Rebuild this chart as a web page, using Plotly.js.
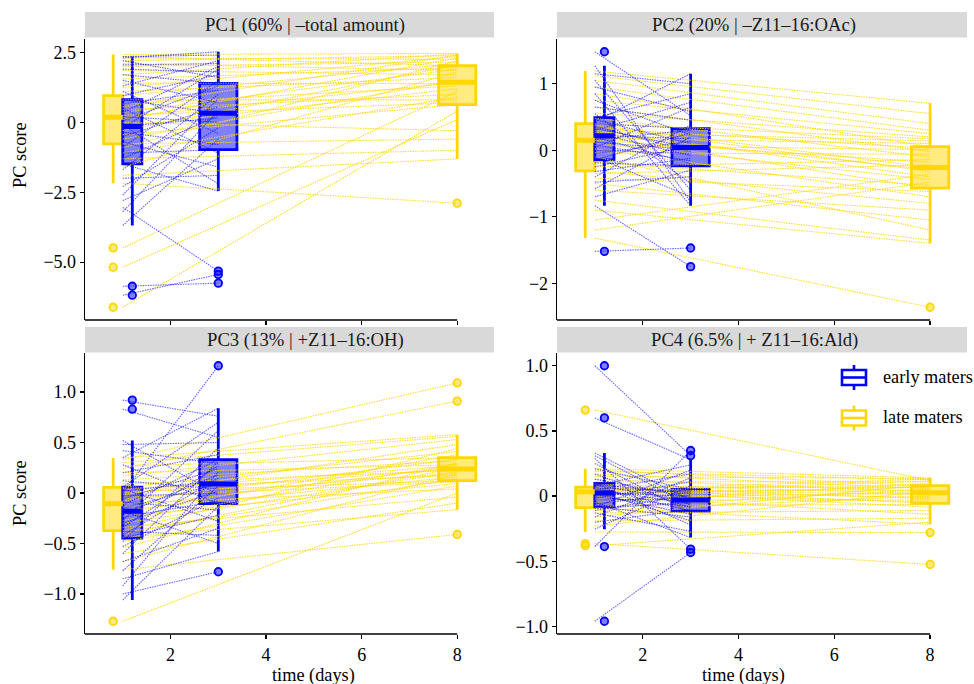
<!DOCTYPE html>
<html><head><meta charset="utf-8">
<script src="https://cdn.plot.ly/plotly-3.0.1.min.js"></script>
<style>html,body{margin:0;padding:0;background:#fff}#chart{width:974px;height:684px}</style>
</head><body><div id="chart"></div>
<script>
// ---------------- DATA ----------------
const panelTitles = ['PC1 (60% | \u2013total amount)', 'PC2 (20% | \u2013Z11\u201316:OAc)', 'PC3 (13% | +Z11\u201316:OH)', 'PC4 (6.5% | + Z11\u201316:Ald)'];
const groupNames = ['early maters', 'late maters'];
const earlyDays = [1, 3];
const lateDays = [1, 8];
const xTickVals = [2, 4, 6, 8];
const yTickVals = [[-5, -2.5, 0, 2.5], [-2, -1, 0, 1], [-1, -0.5, 0, 0.5, 1], [-1, -0.5, 0, 0.5, 1]];
const yTickText = [['\u22125.0', '\u22122.5', '0', '2.5'], ['\u22122', '\u22121', '0', '1'], ['\u22121.0', '\u22120.5', '0', '0.5', '1.0'], ['\u22121.0', '\u22120.5', '0', '0.5', '1.0']];

// individual scores (paired by index)
const pc1EarlyDay1 = [-6.18,-5.86,-3.69,-3.2,-3.04,-2.8,-2.6,-2.3,-2.0,-1.7,-1.49,-1.3,-1.1,-0.9,-0.7,-0.5,-0.35,-0.2,-0.15,-0.1,0.05,0.2,0.35,0.5,0.65,0.81,0.95,1.1,1.3,1.5,1.7,1.9,2.05,2.2,2.3,2.35];
const pc1EarlyDay3 = [-5.44,-5.75,-0.6,0.4,-5.32,-1.3,0.85,-0.2,-1.9,1.0,-2.46,0.25,-0.98,1.5,-1.6,0.55,-0.8,1.9,0.15,-2.2,1.3,0.0,2.0,-1.1,1.15,0.32,1.7,-0.4,2.2,0.7,1.39,1.8,2.1,1.6,2.52,2.4];
const pc1LateDay1 = [-6.61,-5.18,-4.49,-2.18,-1.9,-1.6,-1.3,-1.1,-0.9,-0.77,-0.6,-0.45,-0.3,-0.15,0.0,0.1,0.18,0.25,0.35,0.45,0.55,0.65,0.8,0.95,1.1,1.25,1.4,1.55,1.7,1.85,2.0,2.1,2.2,2.3,2.35,2.42];
const pc1LateDay8 = [0.4,0.1,1.1,-2.89,-1.31,1.8,-1.0,0.9,2.2,-0.6,1.5,0.63,2.05,1.2,-0.3,2.3,1.43,0.7,1.9,1.0,2.4,1.3,0.8,2.1,1.6,2.35,1.38,1.95,2.44,1.7,2.15,1.85,2.38,2.25,2.02,2.46];

const pc2EarlyDay1 = [-1.52,-0.835,-0.7,-0.58,-0.48,-0.4,-0.32,-0.25,-0.19,-0.145,-0.1,-0.05,0.0,0.04,0.08,0.12,0.16,0.2,0.23,0.26,0.3,0.33,0.36,0.4,0.43,0.46,0.49,0.55,0.65,0.75,0.85,0.95,1.05,1.15,1.27,1.48];
const pc2EarlyDay3 = [-1.47,-1.75,-0.3,0.2,-0.4,0.38,-0.12,0.07,-0.235,0.26,-0.7,0.13,-0.05,0.65,-0.16,0.01,0.3,-0.2,0.17,-0.08,0.72,0.04,-0.02,0.325,1.15,0.1,0.85,-0.5,0.45,0.23,-0.835,0.58,-0.6,1.0,-0.78,0.52];
const pc2LateDay1 = [-1.32,-1.2,-1.05,-0.9,-0.75,-0.6,-0.5,-0.42,-0.35,-0.31,-0.25,-0.18,-0.1,-0.04,0.02,0.07,0.11,0.15,0.18,0.21,0.24,0.27,0.3,0.33,0.36,0.38,0.40,0.48,0.56,0.65,0.75,0.85,0.95,1.05,1.12,1.19];
const pc2LateDay8 = [-2.36,-0.48,-0.36,-1.40,-1.35,-0.9,-1.05,-0.62,-0.22,-0.8,-0.14,-0.53,-1.2,-0.06,-0.7,0.01,-0.44,-0.18,0.1,-0.57,-0.29,0.14,-0.4,0.03,-0.32,-0.26,0.17,-0.1,0.2,-0.02,0.25,0.055,0.3,0.4,0.55,0.705];

const pc3EarlyDay1 = [-1.06,-1.0,-0.92,-0.85,-0.77,-0.68,-0.6,-0.53,-0.48,-0.446,-0.42,-0.38,-0.34,-0.3,-0.27,-0.24,-0.21,-0.18,-0.15,-0.12,-0.09,-0.06,-0.03,0.0,0.02,0.04,0.059,0.12,0.2,0.28,0.35,0.42,0.48,0.52,0.83,0.92];
const pc3EarlyDay3 = [-0.13,-0.78,0.21,-0.58,0.07,-0.35,0.31,-0.05,0.45,-0.22,0.15,-0.42,0.27,0.02,0.62,-0.08,0.18,-0.5,0.09,0.33,-0.17,0.24,0.0,1.26,0.12,-0.28,0.7,0.04,0.38,-0.106,0.84,0.29,0.5,-0.02,0.55,0.76];
const pc3LateDay1 = [-1.27,-0.76,-0.68,-0.6,-0.54,-0.48,-0.44,-0.41,-0.39,-0.373,-0.34,-0.3,-0.27,-0.23,-0.2,-0.17,-0.14,-0.106,-0.08,-0.06,-0.04,-0.02,0.0,0.01,0.03,0.045,0.056,0.09,0.13,0.17,0.2,0.24,0.27,0.3,0.33,0.347];
const pc3LateDay8 = [0.0,-0.41,0.19,-0.1,0.3,0.07,-0.165,0.25,0.14,0.44,-0.04,0.21,0.29,0.095,0.38,0.16,0.26,0.04,0.335,0.2,0.11,0.48,0.238,0.122,0.27,0.175,0.41,0.225,0.32,0.53,0.28,0.91,0.35,0.56,1.09,0.578];

const pc4EarlyDay1 = [-0.96,-0.387,-0.254,-0.2,-0.16,-0.13,-0.11,-0.095,-0.085,-0.081,-0.06,-0.045,-0.03,-0.015,-0.005,0.005,0.015,0.025,0.035,0.045,0.055,0.062,0.07,0.078,0.085,0.09,0.097,0.13,0.17,0.21,0.25,0.29,0.31,0.33,0.6,1.0];
const pc4EarlyDay3 = [-0.433,0.35,0.08,-0.1,0.14,-0.27,0.01,-0.05,0.2,-0.16,0.03,-0.318,-0.02,0.11,-0.08,0.045,-0.14,0.0,-0.19,0.17,-0.06,0.038,-0.115,0.24,-0.04,0.02,-0.22,-0.01,-0.09,0.051,-0.125,-0.407,-0.07,-0.03,0.28,0.31];
const pc4LateDay1 = [-0.38,-0.364,-0.275,-0.23,-0.19,-0.16,-0.13,-0.11,-0.095,-0.089,-0.07,-0.05,-0.03,-0.015,0.0,0.012,0.022,0.033,0.038,0.042,0.046,0.05,0.054,0.058,0.062,0.066,0.069,0.09,0.11,0.13,0.15,0.17,0.19,0.2,0.21,0.66];
const pc4LateDay8 = [-0.2,-0.524,-0.28,0.04,-0.17,0.09,-0.11,0.0,-0.216,0.052,-0.065,0.1,-0.03,0.025,-0.14,0.07,-0.045,0.115,-0.01,0.046,-0.085,0.13,0.01,-0.056,0.081,-0.02,0.064,0.018,0.11,0.032,0.135,0.058,0.125,0.076,0.14,0.12];

// box statistics: [lower whisker, Q1, median, Q3, upper whisker]
const pc1EarlyDay1Box = [-3.69, -1.49, -0.15, 0.81, 2.35];
const pc1EarlyDay3Box = [-2.46, -0.98, 0.32, 1.39, 2.52];
const pc1LateDay1Box = [-2.18, -0.77, 0.18, 0.95, 2.42];
const pc1LateDay8Box = [-1.31, 0.63, 1.43, 2.02, 2.46];
const pc2EarlyDay1Box = [-0.835, -0.145, 0.215, 0.49, 1.27];
const pc2EarlyDay3Box = [-0.835, -0.235, 0.04, 0.325, 1.15];
const pc2LateDay1Box = [-1.32, -0.31, 0.15, 0.40, 1.19];
const pc2LateDay8Box = [-1.40, -0.57, -0.26, 0.055, 0.705];
const pc3EarlyDay1Box = [-1.06, -0.446, -0.18, 0.059, 0.52];
const pc3EarlyDay3Box = [-0.58, -0.106, 0.09, 0.33, 0.84];
const pc3LateDay1Box = [-0.76, -0.373, -0.106, 0.056, 0.347];
const pc3LateDay8Box = [-0.165, 0.122, 0.238, 0.35, 0.578];
const pc4EarlyDay1Box = [-0.254, -0.081, 0.025, 0.097, 0.33];
const pc4EarlyDay3Box = [-0.318, -0.115, -0.03, 0.051, 0.28];
const pc4LateDay1Box = [-0.275, -0.089, 0.033, 0.069, 0.21];
const pc4LateDay8Box = [-0.216, -0.056, 0.025, 0.081, 0.14];

// ---------------- LAYOUT / STYLE ----------------
const W = 974, H = 684;
const FONT = "'Liberation Serif', 'Times New Roman', 'DejaVu Serif', serif";
const colsPx = [[85, 494], [557, 967]];
const rowsPx = [[39, 320], [353, 634]];
const stripPx = [[12, 37.5], [327, 352.5]];
const stripTextXPx = [305, 754];
const xRange = [0.21, 8.77];
const yTitleYPx = [155, 493];
const xTitleXPx = [313, 743];
const xTitleYPx = 675;
const DODGE = 0.2, NARROW = 0.4, WIDE = 0.78;
const sty = {
  early: {c: 'rgb(0,0,255)', fill: 'rgba(0,0,255,0.5)', ln: 'rgba(0,0,255,0.6)'},
  late:  {c: 'rgb(255,215,0)', fill: 'rgba(255,215,0,0.5)', ln: 'rgba(255,215,0,0.85)'}
};

const panels = [
  {early: [pc1EarlyDay1, pc1EarlyDay3], late: [pc1LateDay1, pc1LateDay8], eBox: [pc1EarlyDay1Box, pc1EarlyDay3Box], lBox: [pc1LateDay1Box, pc1LateDay8Box]},
  {early: [pc2EarlyDay1, pc2EarlyDay3], late: [pc2LateDay1, pc2LateDay8], eBox: [pc2EarlyDay1Box, pc2EarlyDay3Box], lBox: [pc2LateDay1Box, pc2LateDay8Box]},
  {early: [pc3EarlyDay1, pc3EarlyDay3], late: [pc3LateDay1, pc3LateDay8], eBox: [pc3EarlyDay1Box, pc3EarlyDay3Box], lBox: [pc3LateDay1Box, pc3LateDay8Box]},
  {early: [pc4EarlyDay1, pc4EarlyDay3], late: [pc4LateDay1, pc4LateDay8], eBox: [pc4EarlyDay1Box, pc4EarlyDay3Box], lBox: [pc4LateDay1Box, pc4LateDay8Box]}
];

const traces = [];
const layout = {
  width: W, height: H, margin: {l: 0, r: 0, t: 0, b: 0},
  paper_bgcolor: '#fff', plot_bgcolor: 'rgba(0,0,0,0)', showlegend: false,
  font: {family: FONT, color: '#000', size: 18},
  shapes: [], annotations: []
};

panels.forEach((P, p) => {
  const s = p ? String(p + 1) : '';
  const xa = 'x' + s, ya = 'y' + s;
  const col = p % 2, row = Math.floor(p / 2);
  const all = [].concat(P.early[0], P.early[1], P.late[0], P.late[1]);
  const mn = Math.min(...all), mx = Math.max(...all), pad = (mx - mn) * 0.05;
  const yr = [mn - pad, mx + pad];

  // connecting lines
  [['late', lateDays], ['early', earlyDays]].forEach(([g, days]) => {
    const [a, b] = P[g];
    const xs = [], ys = [];
    a.forEach((v, i) => { xs.push(days[0], days[1], null); ys.push(v, b[i], null); });
    traces.push({type: 'scatter', mode: 'lines', x: xs, y: ys, xaxis: xa, yaxis: ya,
      line: {color: sty[g].ln, width: 1.1, dash: '1.5px,1px'}, hoverinfo: 'skip', showlegend: false});
  });

  // boxes
  const boxes = [
    {g: 'late', vals: P.late[0], st: P.lBox[0], x: lateDays[0] - DODGE, w: NARROW},
    {g: 'early', vals: P.early[0], st: P.eBox[0], x: earlyDays[0] + DODGE, w: NARROW},
    {g: 'early', vals: P.early[1], st: P.eBox[1], x: earlyDays[1], w: WIDE},
    {g: 'late', vals: P.late[1], st: P.lBox[1], x: lateDays[1], w: WIDE}
  ];
  boxes.forEach(B => {
    const st = B.st, c = sty[B.g];
    traces.push({type: 'box', orientation: 'v', x: [B.x], q1: [st[1]], median: [st[2]], q3: [st[3]],
      lowerfence: [st[0]], upperfence: [st[4]], width: B.w, whiskerwidth: 0,
      fillcolor: c.fill, line: {color: c.c, width: 2.8}, boxpoints: false,
      xaxis: xa, yaxis: ya, hoverinfo: 'skip', showlegend: false});
    traces.push({type: 'scatter', mode: 'lines', x: [B.x - B.w / 2, B.x + B.w / 2], y: [st[2], st[2]],
      line: {color: c.c, width: 5}, xaxis: xa, yaxis: ya, hoverinfo: 'skip', showlegend: false});
    const out = B.vals.filter(v => v < st[0] - 1e-9 || v > st[4] + 1e-9);
    traces.push({type: 'scatter', mode: 'markers', x: out.map(() => B.x), y: out,
      marker: {symbol: 'circle', size: 7.5, color: c.fill, line: {color: c.c, width: 1.8}},
      xaxis: xa, yaxis: ya, hoverinfo: 'skip', showlegend: false, cliponaxis: false});
  });

  layout['xaxis' + s] = {
    domain: [colsPx[col][0] / W, colsPx[col][1] / W], range: xRange, anchor: ya,
    tickvals: xTickVals, ticktext: xTickVals.map(String), showticklabels: row === 1,
    ticks: 'outside', ticklen: 4, tickwidth: 1.3, tickcolor: '#000',
    showline: false, zeroline: false, showgrid: false, fixedrange: true,
    tickfont: {family: FONT, size: 18, color: '#000'}
  };
  layout['yaxis' + s] = {
    domain: [1 - rowsPx[row][1] / H, 1 - rowsPx[row][0] / H], range: yr, anchor: xa,
    tickvals: yTickVals[p], ticktext: yTickText[p],
    ticks: 'outside', ticklen: 4, tickwidth: 1.3, tickcolor: '#000',
    showline: true, linecolor: '#000', linewidth: 1.3, zeroline: false, showgrid: false, fixedrange: true,
    tickfont: {family: FONT, size: 18, color: '#000'}
  };

  // capped x axis line (ends at last tick)
  layout.shapes.push({type: 'line', xref: xa, yref: ya + ' domain', x0: xRange[0], x1: xTickVals[xTickVals.length - 1],
    y0: 0, y1: 0, line: {color: '#000', width: 1.3}});
  // strip
  layout.shapes.push({type: 'rect', xref: 'paper', yref: 'paper', layer: 'below',
    x0: colsPx[col][0] / W, x1: colsPx[col][1] / W, y0: 1 - stripPx[row][1] / H, y1: 1 - stripPx[row][0] / H,
    fillcolor: '#D9D9D9', line: {width: 0}});
  layout.annotations.push({xref: 'paper', yref: 'paper', showarrow: false,
    x: stripTextXPx[col] / W, y: 1 - (stripPx[row][0] + stripPx[row][1]) / 2 / H,
    xanchor: 'center', yanchor: 'middle', text: panelTitles[p], font: {family: FONT, size: 18.7, color: '#1a1a1a'}});
  if (col === 0) {
    layout.annotations.push({xref: 'paper', yref: 'paper', showarrow: false, textangle: -90,
      x: 20 / W, y: 1 - yTitleYPx[row] / H, xanchor: 'center', yanchor: 'middle',
      text: 'PC score', font: {family: FONT, size: 18.3, color: '#000'}});
  }
  if (row === 1) {
    layout.annotations.push({xref: 'paper', yref: 'paper', showarrow: false,
      x: xTitleXPx[col] / W, y: 1 - xTitleYPx / H, xanchor: 'center', yanchor: 'middle',
      text: 'time (days)', font: {family: FONT, size: 18.3, color: '#000'}});
  }
});

// legend (drawn as keys in the PC4 panel)
[['early', 377.5], ['late', 418]].forEach(([g, cy], i) => {
  const c = sty[g].c, L = 842 / W, R = 866 / W, cx = 854 / W;
  layout.shapes.push({type: 'rect', xref: 'paper', yref: 'paper', x0: L, x1: R, y0: 1 - (cy + 7.5) / H, y1: 1 - (cy - 7.5) / H,
    fillcolor: '#fff', line: {color: c, width: 2.6}});
  layout.shapes.push({type: 'line', xref: 'paper', yref: 'paper', x0: L, x1: R, y0: 1 - cy / H, y1: 1 - cy / H, line: {color: c, width: 2.6}});
  layout.shapes.push({type: 'line', xref: 'paper', yref: 'paper', x0: cx, x1: cx, y0: 1 - (cy - 7.5) / H, y1: 1 - (cy - 12.5) / H, line: {color: c, width: 2.6}});
  layout.shapes.push({type: 'line', xref: 'paper', yref: 'paper', x0: cx, x1: cx, y0: 1 - (cy + 7.5) / H, y1: 1 - (cy + 12.5) / H, line: {color: c, width: 2.6}});
  layout.annotations.push({xref: 'paper', yref: 'paper', showarrow: false, x: 881 / W, y: 1 - (cy - 1) / H,
    xanchor: 'left', yanchor: 'middle', text: groupNames[i], font: {family: FONT, size: 18.3, color: '#000'}});
});

Plotly.newPlot('chart', traces, layout, {staticPlot: true, displayModeBar: false});
</script>
</body></html>
